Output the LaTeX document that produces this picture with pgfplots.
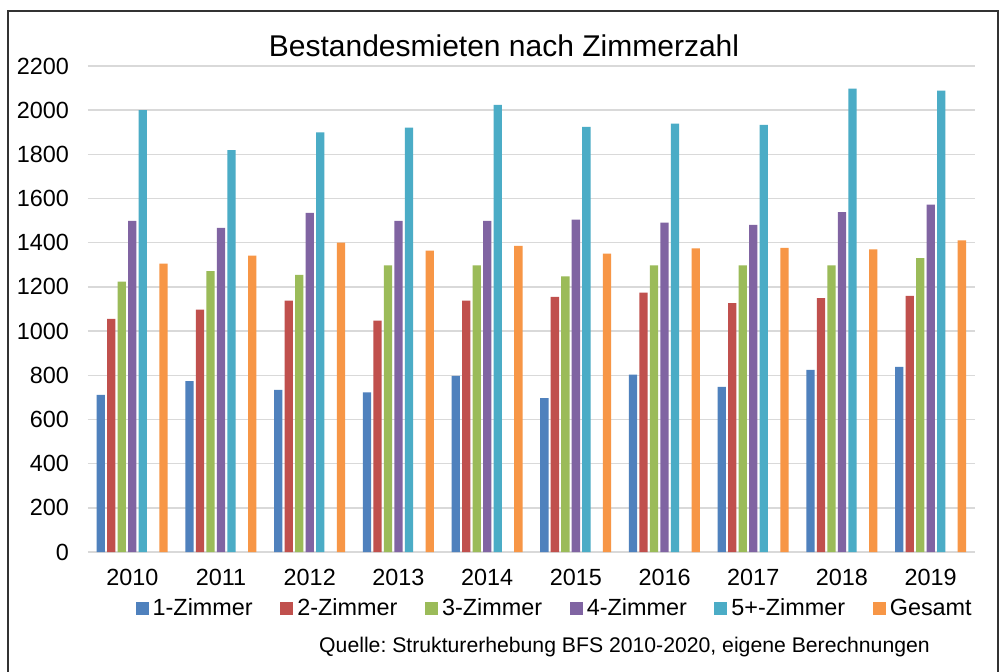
\documentclass[border=0pt]{standalone}
\usepackage{fontspec}
\setmainfont{Liberation Sans}
\usepackage{pgfplots}
\pgfplotsset{compat=1.18}
\definecolor{c1}{HTML}{4F81BD}
\definecolor{c2}{HTML}{C0504D}
\definecolor{c3}{HTML}{9BBB59}
\definecolor{c4}{HTML}{8064A2}
\definecolor{c5}{HTML}{4BACC6}
\definecolor{c6}{HTML}{F79646}
\definecolor{gridc}{HTML}{D9D9D9}
\frenchspacing
\begin{document}
\begin{tikzpicture}
\useasboundingbox (-44pt,-59.5pt) rectangle (456pt,276pt);
\fill[white] (-44pt,-59.5pt) rectangle (456pt,276pt);
\draw[black!80, line width=0.8pt] (-40pt,-62pt) -- (-40pt,270.5pt) -- (455pt,270.5pt) -- (455pt,-62pt);
\node[font=\fontsize{15}{18}\selectfont] at (208pt,253pt) {Bestandesmieten nach Zimmerzahl};
\node[font=\fontsize{10.6}{13}\selectfont] at (268.25pt,-47.5pt) {Quelle: Strukturerhebung BFS 2010-2020, eigene Berechnungen};
\begin{axis}[
  anchor=south west, at={(0pt,0pt)},
  scale only axis, width=443.5pt, height=243pt,
  ymin=0, ymax=2200, xmin=-0.5, xmax=9.5,
  ytick={0,200,...,2200},
  xtick={0,...,9},
  xticklabels={2010,2011,2012,2013,2014,2015,2016,2017,2018,2019},
  axis line style={draw=none},
  major tick length=0pt,
  ymajorgrids,
  grid style={line width=0.75pt, gridc},
  ybar, bar width=4.15pt,
  tick label style={font=\fontsize{11.7}{14}\selectfont},
  /pgf/number format/assume math mode=true,
  /pgf/number format/1000 sep={},
  yticklabel style={xshift=-6pt},
  xticklabel style={yshift=-5pt},
  legend columns=6,
  legend style={at={(0.5273,-0.116)}, anchor=center, draw=none, fill=none,
    font=\fontsize{11.7}{14}\selectfont,
    /tikz/every even column/.append style={column sep=11.8pt}},
]
\addplot[fill=c1, draw=none, bar shift=-15.75pt, legend image code/.code={\fill[c1] (0pt,-3.25pt) rectangle (6.5pt,3.25pt);}] coordinates {(0,711) (1,773) (2,734) (3,723) (4,797) (5,697) (6,803) (7,747) (8,824) (9,838)};
\addlegendentry{1-Zimmer}
\addplot[fill=c2, draw=none, bar shift=-10.5pt, legend image code/.code={\fill[c2] (0pt,-3.25pt) rectangle (6.5pt,3.25pt);}] coordinates {(0,1055) (1,1097) (2,1138) (3,1047) (4,1138) (5,1155) (6,1174) (7,1127) (8,1149) (9,1159)};
\addlegendentry{2-Zimmer}
\addplot[fill=c3, draw=none, bar shift=-5.25pt, legend image code/.code={\fill[c3] (0pt,-3.25pt) rectangle (6.5pt,3.25pt);}] coordinates {(0,1224) (1,1272) (2,1254) (3,1298) (4,1298) (5,1248) (6,1298) (7,1298) (8,1298) (9,1330)};
\addlegendentry{3-Zimmer}
\addplot[fill=c4, draw=none, bar shift=0pt, legend image code/.code={\fill[c4] (0pt,-3.25pt) rectangle (6.5pt,3.25pt);}] coordinates {(0,1499) (1,1467) (2,1535) (3,1499) (4,1499) (5,1505) (6,1491) (7,1481) (8,1538) (9,1573)};
\addlegendentry{4-Zimmer}
\addplot[fill=c5, draw=none, bar shift=5.25pt, legend image code/.code={\fill[c5] (0pt,-3.25pt) rectangle (6.5pt,3.25pt);}] coordinates {(0,2000) (1,1819) (2,1899) (3,1921) (4,2024) (5,1924) (6,1939) (7,1933) (8,2098) (9,2089)};
\addlegendentry{5+-Zimmer}
\addplot[fill=c6, draw=none, bar shift=15.6pt, legend image code/.code={\fill[c6] (0pt,-3.25pt) rectangle (6.5pt,3.25pt);}] coordinates {(0,1306) (1,1342) (2,1401) (3,1364) (4,1386) (5,1351) (6,1375) (7,1377) (8,1370) (9,1411)};
\addlegendentry{Gesamt}
\end{axis}
\end{tikzpicture}
\end{document}
